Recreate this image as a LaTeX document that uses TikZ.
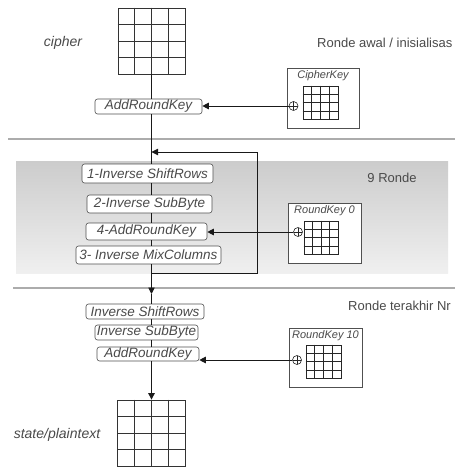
\documentclass[tikz,border=0pt]{standalone}
\usepackage{fontspec}
\setmainfont{Liberation Sans}
\usetikzlibrary{arrows.meta,calc}
\definecolor{txt}{HTML}{4A4A4A}
\definecolor{edge}{HTML}{505050}
\newcommand\mygridlines[2]{%
  \foreach \i in {1,2,3}{%
    \draw[#2] ($(#1.north west)!\i/4!(#1.north east)$) -- ($(#1.south west)!\i/4!(#1.south east)$);
    \draw[#2] ($(#1.north west)!\i/4!(#1.south west)$) -- ($(#1.north east)!\i/4!(#1.south east)$);
  }}
\begin{document}
\begin{tikzpicture}[x=1pt,y=-1pt,
  op/.style={draw=edge, rounded corners=2.5pt, fill=white, inner sep=0pt,
    font=\fontsize{13.5}{14}\selectfont\itshape, text=txt, line width=0.6pt},
  keybox/.style={draw=edge, fill=white, inner sep=0pt, line width=0.7pt},
  keylbl/.style={font=\fontsize{11}{12}\selectfont\itshape, text=txt, inner sep=0pt},
  lbl/.style={font=\fontsize{13}{14}\selectfont, text=txt, inner sep=0pt},
  side/.style={font=\fontsize{14}{15}\selectfont\itshape, text=txt, inner sep=0pt},
  biggrid/.style={draw=black!80, line width=0.8pt, inner sep=0pt, fill=white},
  smallgrid/.style={draw=black!85, line width=0.7pt, inner sep=0pt},
  gl/.style={black!80, line width=0.8pt},
  sgl/.style={black!85, line width=0.7pt},
  flow/.style={line width=0.9pt, black!90},
  arr/.style={flow, -{Triangle[length=6.5pt,width=6.5pt]}},
  sep/.style={draw=gray!65, line width=1.3pt},
  band/.style={inner sep=0pt, top color=black!20, bottom color=black!6},
  plus/.style={circle, draw=black!85, line width=0.6pt, minimum size=9pt, inner sep=0pt, fill=white,
    path picture={\draw[black!85,line width=0.5pt] (path picture bounding box.north) -- (path picture bounding box.south)
      (path picture bounding box.west) -- (path picture bounding box.east);}}
]
\useasboundingbox (0,0) rectangle (455,468);
\fill[white] (0,0) rectangle (455,468);

% separators and band
\draw[sep] (8,139) -- (455,139);
\draw[sep] (13,288) -- (455,288);
\node[band, minimum width=432pt, minimum height=112pt] (band) at (232,217) {};

% grids
\node[biggrid, minimum width=67pt, minimum height=66pt] (cgrid) at (151.5,41) {};
\mygridlines{cgrid}{gl}
\node[biggrid, minimum width=68pt, minimum height=66pt] (pgrid) at (151.5,433) {};
\mygridlines{pgrid}{gl}

% side labels
\node[side] (lcipher) at (63,43) {cipher};
\node[side] (lplain) at (57,435) {state/plaintext};
\node[lbl, anchor=west] (lawal) at (317,43) {Ronde awal / inisialisas};
\node[lbl] (l9) at (392,178) {9 Ronde};
\node[lbl, anchor=west] (lakhir) at (348,306) {Ronde terakhir Nr};

% coordinates of the main line
\coordinate (loopb) at (151.5,273);
\coordinate (loopr) at (257,273);
\coordinate (loopt) at (151.5,152);
\coordinate (midarr) at (151.5,294);

% loop
\draw[arr] (loopb) -- (loopr) |- (loopt);

% operation boxes
\node[op, minimum width=107pt, minimum height=15pt] (ark1) at (148.5,106.5) {AddRoundKey};
\node[op, minimum width=131pt, minimum height=19pt] (isr1) at (147.5,173.5) {1-Inverse ShiftRows};
\node[op, minimum width=125pt, minimum height=18pt] (isb1) at (149.5,204) {2-Inverse SubByte};
\node[op, minimum width=121pt, minimum height=17pt] (ark2) at (146.5,231.5) {4-AddRoundKey};
\node[op, minimum width=145pt, minimum height=18pt] (imc) at (148.5,255) {3- Inverse MixColumns};
\node[op, minimum width=118pt, minimum height=15pt] (isr2) at (145,311.5) {Inverse ShiftRows};
\node[op, minimum width=103pt, minimum height=15pt] (isb2) at (146.5,332.5) {Inverse SubByte};
\node[op, minimum width=102pt, minimum height=14pt] (ark3) at (148,354) {AddRoundKey};

% main line
\draw[flow] (cgrid.south) -- (cgrid.south |- ark1.north);
\draw[flow] (cgrid.south |- ark1.south) -- (cgrid.south |- isr1.north);
\draw[flow] (cgrid.south |- isr1.south) -- (cgrid.south |- isb1.north);
\draw[flow] (cgrid.south |- isb1.south) -- (cgrid.south |- ark2.north);
\draw[flow] (cgrid.south |- ark2.south) -- (cgrid.south |- imc.north);
\draw[flow] (cgrid.south |- imc.south) -- (loopb);
\draw[arr] (loopb) -- (midarr);
\draw[flow] (midarr) -- (cgrid.south |- isr2.north);
\draw[flow] (cgrid.south |- isr2.south) -- (cgrid.south |- isb2.north);
\draw[flow] (cgrid.south |- isb2.south) -- (cgrid.south |- ark3.north);
\draw[arr] (cgrid.south |- ark3.south) -- (pgrid.north);

% key boxes
\node[keybox, minimum width=72pt, minimum height=60pt] (ckbox) at (323,98) {};
\node[keylbl, anchor=north] (cklbl) at ([yshift=-3pt]ckbox.north) {CipherKey};
\node[smallgrid, minimum width=35pt, minimum height=33pt] (ckgrid) at (320.5,102.5) {};
\mygridlines{ckgrid}{sgl}
\node[plus] (ckplus) at (293.5,106) {};

\node[keybox, minimum width=73pt, minimum height=60pt] (rk0box) at (324.5,233) {};
\node[keylbl, anchor=north] (rk0lbl) at ([yshift=-3pt]rk0box.north) {RoundKey 0};
\node[smallgrid, minimum width=34pt, minimum height=33pt] (rk0grid) at (321,237.5) {};
\mygridlines{rk0grid}{sgl}
\node[plus] (rk0plus) at (298,232) {};

\node[keybox, minimum width=73pt, minimum height=59pt] (rk10box) at (325.5,357.5) {};
\node[keylbl, anchor=north] (rk10lbl) at ([yshift=-3pt]rk10box.north) {RoundKey 10};
\node[smallgrid, minimum width=35pt, minimum height=33pt] (rk10grid) at (323.5,361.5) {};
\mygridlines{rk10grid}{sgl}
\node[plus] (rk10plus) at (297,360) {};

% key connectors
\draw[arr] (ckplus.west) -- (ark1.east |- ckplus.west);
\draw[arr] (rk0plus.west) -- (ark2.east |- rk0plus.west);
\draw[arr] (rk10plus.west) -- (ark3.east |- rk10plus.west);
\end{tikzpicture}
\end{document}
